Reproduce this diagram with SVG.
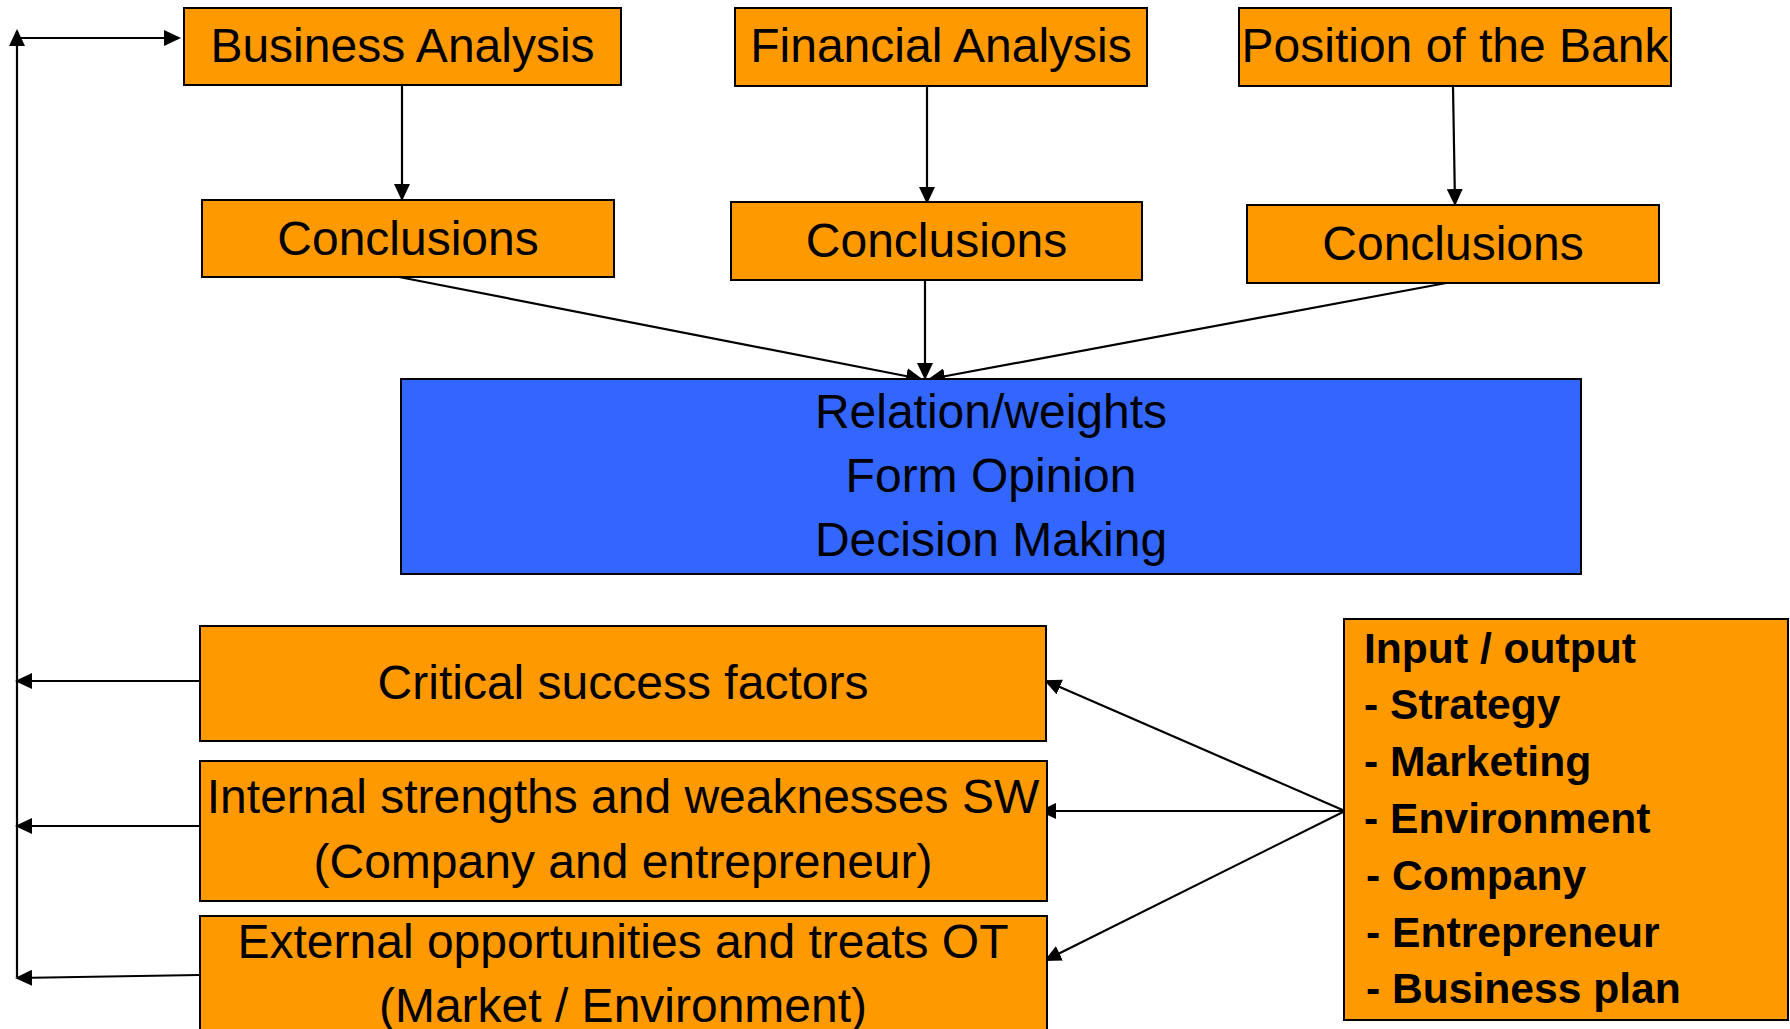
<svg xmlns="http://www.w3.org/2000/svg" width="1790" height="1029" viewBox="0 0 1790 1029">
  <style>
    .box { fill: #FF9900; stroke: #000; stroke-width: 2; }
    .core { fill: #3366FF; stroke: #000; stroke-width: 2; }
    .lbl { font-family: "Liberation Sans", Arial, sans-serif; font-size: 48px; fill: #000; text-anchor: middle; }
    .list { font-family: "Liberation Sans", Arial, sans-serif; font-size: 42.6px; font-weight: bold; fill: #000; }
    .wire { fill: none; stroke: #000; stroke-width: 2.2; }
    .wire.arrow { marker-end: url(#head); }
  </style>
  <defs>
    <marker id="head" markerUnits="userSpaceOnUse" markerWidth="17" markerHeight="16" refX="15" refY="8" orient="auto">
      <path d="M0,0 L17,8 L0,16 Z" fill="#000"/>
    </marker>
  </defs>

  <rect width="1790" height="1029" fill="#fff"/>

  <!-- connectors -->
  <g id="connectors">
    <line class="wire arrow" x1="402" y1="85" x2="402" y2="199"/>
    <line class="wire arrow" x1="927" y1="87" x2="927" y2="202"/>
    <line class="wire arrow" x1="1453" y1="86" x2="1455" y2="204"/>
    <line class="wire arrow" x1="399" y1="277" x2="921" y2="379"/>
    <line class="wire arrow" x1="925" y1="280" x2="925" y2="378"/>
    <line class="wire arrow" x1="1457" y1="281" x2="930" y2="379"/>
    <line class="wire arrow" x1="199" y1="681" x2="17" y2="681"/>
    <line class="wire arrow" x1="199" y1="826" x2="17" y2="826"/>
    <line class="wire arrow" x1="199" y1="975" x2="17" y2="978"/>
    <line class="wire arrow" x1="17" y1="977" x2="17" y2="31"/>
    <line class="wire arrow" x1="17" y1="38" x2="179" y2="38"/>
    <line class="wire arrow" x1="1345" y1="811" x2="1046" y2="681"/>
    <line class="wire arrow" x1="1345" y1="811" x2="1041" y2="811"/>
    <line class="wire arrow" x1="1345" y1="811" x2="1046" y2="960"/>
  </g>

  <!-- analysis inputs -->
  <g id="business-analysis">
    <rect class="box" x="184" y="8" width="437" height="77"/>
    <text class="lbl" x="402.5" y="62">Business Analysis</text>
  </g>
  <g id="financial-analysis">
    <rect class="box" x="735" y="8" width="412" height="78"/>
    <text class="lbl" x="941" y="62">Financial Analysis</text>
  </g>
  <g id="bank-position">
    <rect class="box" x="1239" y="8" width="432" height="78"/>
    <text class="lbl" x="1455" y="62">Position of the Bank</text>
  </g>

  <!-- conclusions -->
  <g id="conclusions-business">
    <rect class="box" x="202" y="200" width="412" height="77"/>
    <text class="lbl" x="408" y="255">Conclusions</text>
  </g>
  <g id="conclusions-financial">
    <rect class="box" x="731" y="202" width="411" height="78"/>
    <text class="lbl" x="936.5" y="257">Conclusions</text>
  </g>
  <g id="conclusions-bank">
    <rect class="box" x="1247" y="205" width="412" height="78"/>
    <text class="lbl" x="1453" y="260">Conclusions</text>
  </g>

  <!-- decision core -->
  <g id="decision">
    <rect class="core" x="401" y="379" width="1180" height="195"/>
    <text class="lbl" x="991" y="428">Relation/weights</text>
    <text class="lbl" x="991" y="492">Form Opinion</text>
    <text class="lbl" x="991" y="556">Decision Making</text>
  </g>

  <!-- factor boxes -->
  <g id="critical-success">
    <rect class="box" x="200" y="626" width="846" height="115"/>
    <text class="lbl" x="623" y="699">Critical success factors</text>
  </g>
  <g id="internal-sw">
    <rect class="box" x="200" y="761" width="847" height="140"/>
    <text class="lbl" x="623" y="813">Internal strengths and weaknesses SW</text>
    <text class="lbl" x="623" y="878">(Company and entrepreneur)</text>
  </g>
  <g id="external-ot">
    <rect class="box" x="200" y="916" width="847" height="130"/>
    <text class="lbl" x="623" y="958">External opportunities and treats OT</text>
    <text class="lbl" x="623" y="1022">(Market / Environment)</text>
  </g>

  <!-- input / output list -->
  <g id="input-output">
    <rect class="box" x="1344" y="619" width="444" height="401"/>
    <text class="list" x="1364" y="663">Input / output</text>
    <text class="list" x="1364" y="719">- Strategy</text>
    <text class="list" x="1364" y="776">- Marketing</text>
    <text class="list" x="1364" y="833">- Environment</text>
    <text class="list" x="1366" y="890">- Company</text>
    <text class="list" x="1366" y="947">- Entrepreneur</text>
    <text class="list" x="1366" y="1003">- Business plan</text>
  </g>
</svg>
